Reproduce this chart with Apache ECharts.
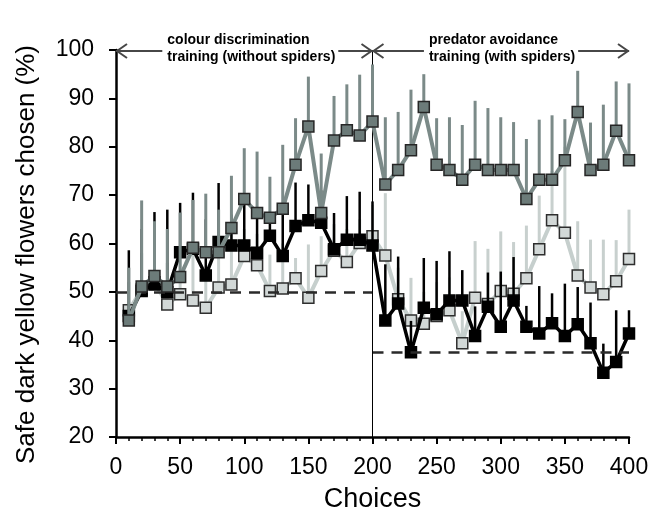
<!DOCTYPE html>
<html>
<head>
<meta charset="utf-8">
<script src="https://cdn.jsdelivr.net/npm/echarts@6/dist/echarts.min.js"></script>
<style>
html,body{margin:0;padding:0;background:#fff;}
#chart{width:653px;height:519px;}
</style>
</head>
<body>
<div id="chart"></div>
<script>
// ---- data ----
var choices = [10,20,30,40,50,60,70,80,90,100,110,120,130,140,150,160,170,180,190,200,
               210,220,230,240,250,260,270,280,290,300,310,320,330,340,350,360,370,380,390,400];

var darkMean  = [44.1,51.1,53.3,51.1,53.1,59.1,58.2,58.2,63.2,69.2,66.3,65.3,67.2,76.3,84.2,66.3,81.3,83.4,82.3,85.2,
                 72.2,75.2,79.3,88.2,76.3,75.2,73.2,76.3,75.2,75.2,75.2,69.2,73.2,73.2,77.2,87.2,75.2,76.3,83.3,77.2];
var darkUpper = [55,68.9,64.6,63,66.4,69,70.3,67,74.0,79.7,79.0,73.8,80.4,85.9,94.5,78.6,90.5,92.9,94.9,97,
                 86.1,87.2,91.8,95.0,85.9,86.1,84.5,89.5,88.0,86.1,85.1,81.6,85.6,86.5,85.7,95.7,85.0,88.7,93.5,93.1];

var blackMean  = [45.0,50.2,51.5,50.0,58.2,58.9,53.4,60.3,59.6,59.6,58.1,61.6,57.4,63.6,64.8,64.3,58.8,60.8,60.8,59.6,
                  44.1,47.6,37.5,46.7,45.4,48.2,48.2,40.9,46.9,42.8,48.2,42.8,41.4,43.5,40.9,43.3,39.4,33.3,35.5,41.4];
var blackUpper = [58.6,63,66.5,67,68.4,70.5,65,72.5,66,69.5,66,66,66,72.6,72.2,71,66.3,69.8,70.7,68.7,
                  55.7,57.3,44,57.0,56.4,58.4,54.5,47,54.0,54.2,57.2,47.1,51.2,49.7,51.7,51.0,47.8,39.3,46.2,46.2];

var lightMean  = [46.2,50.5,52,47.4,49.5,48.2,46.7,50.9,51.5,57.4,55.5,50.2,50.7,52.8,48.8,54.3,58.5,56.2,60.1,61.5,
                  57.5,48.5,44.1,43.4,45.0,46.2,39.4,48.8,47.5,50.2,49.6,52.8,58.8,64.8,62.2,53.4,50.9,49.5,52.2,56.8];
var lightUpper = [52,58,60,56,58,60,55,58,62,63,62,57.7,60,57,59.8,61.5,64,63,65,68,
                  70.4,55,52.9,50,52,53,46,60.5,58.9,62.5,60.3,63.7,69.9,75,80,64.6,60.8,60.8,60.7,67.0];

var phaseBounds = [0, 200, 400];
var phaseLabels = ['colour discrimination\ntraining (without spiders)', 'predator avoidance\ntraining (with spiders)'];
var chanceLevels = [50, 37.5];
var yTicks = [20,30,40,50,60,70,80,90,100];
var xTicks = [0,50,100,150,200,250,300,350,400];

// ---- chart ----
var FONT = '"Liberation Sans", Arial, sans-serif';
var chart = echarts.init(document.getElementById('chart'), null, {renderer:'canvas'});

function pairs(xs, ys){ return xs.map(function(x,i){ return [x, ys[i]]; }); }
function triples(xs, m, u){ return xs.map(function(x,i){ return [x, m[i], u[i]]; }); }

function errSeries(name, mean, upper, color, width, z){
  return {
    type:'custom', name:name, z:z, silent:true,
    data: triples(choices, mean, upper),
    encode:{x:0, y:[1,2]},
    renderItem:function(params, api){
      var p1 = api.coord([api.value(0), api.value(1)]);
      var p2 = api.coord([api.value(0), api.value(2)]);
      return {type:'line', shape:{x1:p1[0], y1:p1[1], x2:p2[0], y2:p2[1]},
              style:{stroke:color, lineWidth:width}};
    }
  };
}

function lineSeries(name, mean, lineColor, lineWidth, fill, border, size, z){
  return {
    type:'line', name:name, z:z, silent:true,
    data: pairs(choices, mean),
    symbol:'rect', symbolSize:size,
    lineStyle:{color:lineColor, width:lineWidth},
    itemStyle:{color:fill, borderColor:border, borderWidth:1.5},
    animation:false
  };
}

var option = {
  animation:false,
  grid:{left:116, right:24, top:50, bottom:82},
  xAxis:{
    type:'value', min:0, max:400, interval:50,
    name:'Choices', nameLocation:'middle', nameGap:49,
    nameTextStyle:{fontFamily:FONT, fontSize:27, color:'#000'},
    axisLine:{show:true, lineStyle:{color:'#000', width:2.5}},
    axisTick:{show:true, length:7, lineStyle:{color:'#000', width:2}},
    minorTick:{show:true, splitNumber:5, length:4, lineStyle:{color:'#000', width:1.5}},
    axisLabel:{fontFamily:FONT, fontSize:23, color:'#000', margin:19,
               formatter:function(v){ return xTicks.indexOf(v)>=0 ? String(v) : ''; }},
    splitLine:{show:false}
  },
  yAxis:{
    type:'value', min:20, max:100, interval:10,
    name:'Safe dark yellow flowers chosen (%)', nameLocation:'middle', nameGap:76,
    nameTextStyle:{fontFamily:FONT, fontSize:26, color:'#000', padding:[0,22,0,0]},
    axisLine:{show:true, lineStyle:{color:'#000', width:2.5}},
    axisTick:{show:true, length:7, lineStyle:{color:'#000', width:2}},
    axisLabel:{fontFamily:FONT, fontSize:23, color:'#000', margin:22,
               formatter:function(v){ return yTicks.indexOf(v)>=0 ? String(v) : ''; }},
    splitLine:{show:false}
  },
  series:[
    errSeries('light err', lightMean, lightUpper, '#c8d0ce', 3, 1),
    lineSeries('light', lightMean, '#c6cfcd', 4, '#d2d8d7', '#2e2e2e', 11, 2),
    errSeries('black err', blackMean, blackUpper, '#000000', 2.5, 3),
    lineSeries('black', blackMean, '#000000', 3.5, '#000000', '#000000', 11, 4),
    errSeries('dark err', darkMean, darkUpper, '#7b8a88', 3, 5),
    {
      type:'line', name:'refs', z:7, silent:true, data:[], symbol:'none',
      markLine:{
        silent:true, symbol:['none','none'], label:{show:false},
        data:[
          [{coord:[phaseBounds[0], chanceLevels[0]], lineStyle:{type:[11,8], color:'#2a2a2a', width:2.5}},
           {coord:[phaseBounds[1], chanceLevels[0]]}],
          [{coord:[phaseBounds[1], chanceLevels[1]], lineStyle:{type:[11,8], color:'#2a2a2a', width:2.5}},
           {coord:[phaseBounds[2], chanceLevels[1]]}],
          [{coord:[phaseBounds[1], 20], lineStyle:{type:'solid', color:'#000', width:1}},
           {coord:[phaseBounds[1], 100]}]
        ]
      }
    },
    lineSeries('dark', darkMean, '#7b8a88', 4, '#6c7b79', '#262626', 11, 8)
  ]
};
chart.setOption(option);

// ---- phase annotations (arrows + labels) ----
function px(x, y){ return chart.convertToPixel({xAxisIndex:0, yAxisIndex:0}, [x, y]); }
var ctx = document.createElement('canvas').getContext('2d');
var annFont = 'bold 14px ' + FONT;
ctx.font = annFont;
var graphics = [];
var arrowColor = '#474747';
var textOffsets = [40, 244]; // label left edge in data units for each phase
for (var i = 0; i < phaseLabels.length; i++) {
  var a = px(phaseBounds[i], 100), b = px(phaseBounds[i+1], 100);
  var yy = a[1] + 1;
  var tl = px(textOffsets[i], 100)[0];
  var lines = phaseLabels[i].split('\n');
  var w = Math.max.apply(null, lines.map(function(s){ return ctx.measureText(s).width; }));
  var s1 = tl - 5, s2 = tl + w + 3;
  graphics.push({type:'line', shape:{x1:a[0], y1:yy, x2:s1, y2:yy}, style:{stroke:arrowColor, lineWidth:2}, z:100});
  graphics.push({type:'line', shape:{x1:s2, y1:yy, x2:b[0], y2:yy}, style:{stroke:arrowColor, lineWidth:2}, z:100});
  graphics.push({type:'polyline', shape:{points:[[a[0]+11, yy-7],[a[0]+1, yy],[a[0]+11, yy+7]]}, style:{stroke:arrowColor, lineWidth:2, fill:null}, z:100});
  graphics.push({type:'polyline', shape:{points:[[b[0]-11, yy-7],[b[0]-1, yy],[b[0]-11, yy+7]]}, style:{stroke:arrowColor, lineWidth:2, fill:null}, z:100});
  graphics.push({type:'text', x:tl, y:a[1]-18, z:100,
    style:{text:phaseLabels[i], font:annFont, fill:'#000', lineHeight:17, textAlign:'left', textVerticalAlign:'top'}});
}
chart.setOption({graphic:graphics});
</script>
</body>
</html>
